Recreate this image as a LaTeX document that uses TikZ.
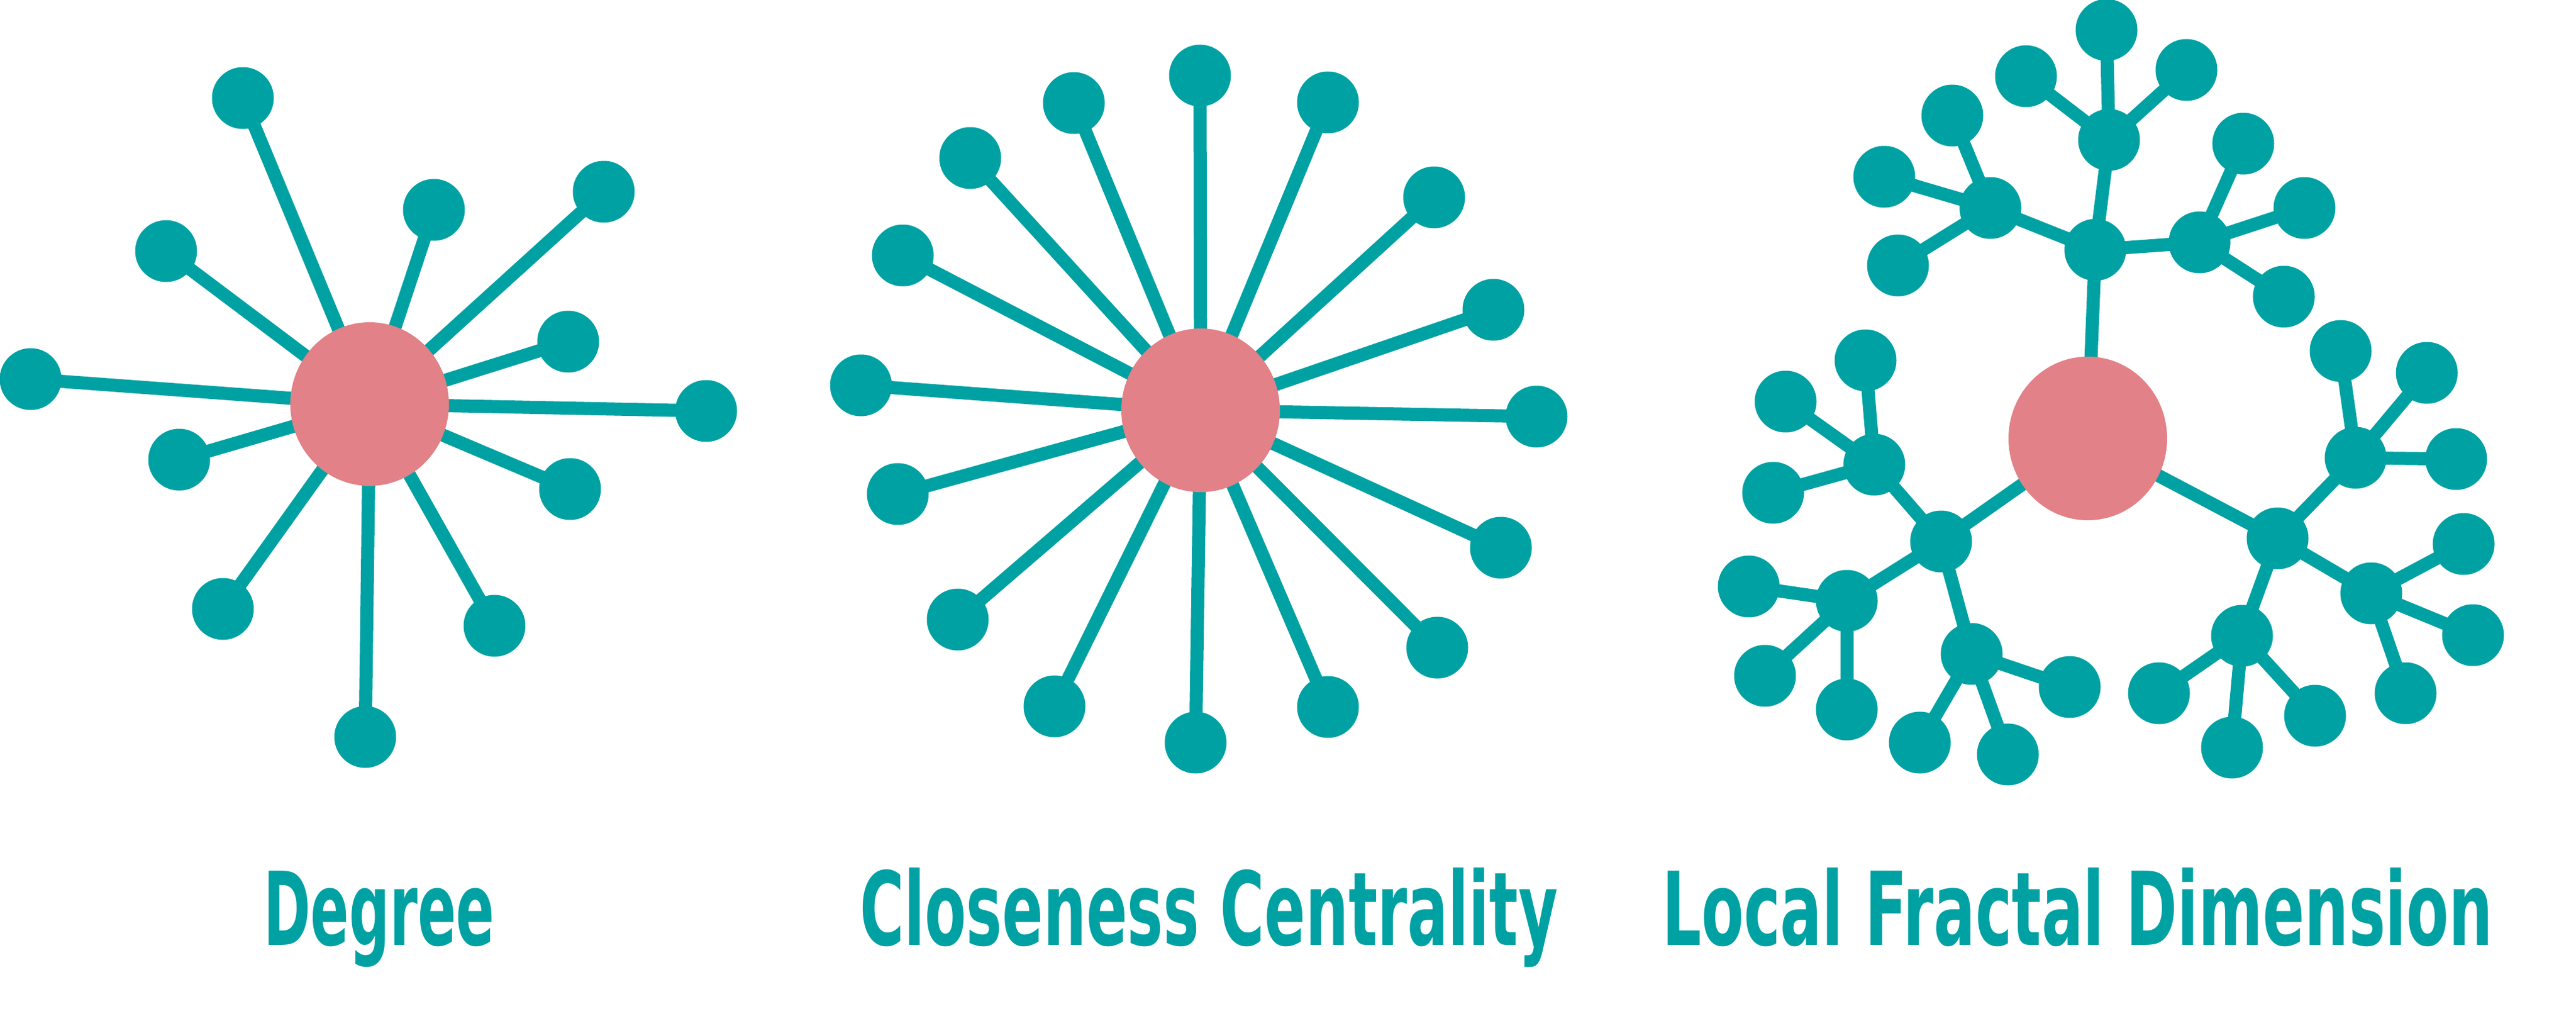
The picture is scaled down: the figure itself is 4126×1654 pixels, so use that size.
\documentclass[tikz,border=0pt]{standalone}
\usepackage{fontspec}
\usepackage{graphicx}
\usetikzlibrary{shapes.geometric}
\newfontfamily\lblfont{DejaVu Sans}
\definecolor{teal1}{RGB}{0,161,163}
\definecolor{pink1}{RGB}{226,129,135}
\pgfdeclarelayer{bg}
\pgfsetlayers{bg,main}
\tikzset{
  leaf/.style={circle, fill=teal1, draw=none, inner sep=0pt, minimum size=99pt},
  hub/.style={ellipse, fill=pink1, draw=none, inner sep=0pt, minimum width=254pt, minimum height=262pt},
  link/.style={draw=teal1, line width=21pt},
  lbl/.style={anchor=base west, inner sep=0pt, text=teal1}
}
\begin{document}
\begin{tikzpicture}[x=1pt,y=-1pt]
\useasboundingbox (0,0) rectangle (4126,1654);
% ---------------- Degree ----------------
\node[hub] (dh) at (592,647) {};
\foreach \n/\x/\y in {1/389/157, 2/695/336, 3/967/307, 4/266/402, 5/910/547, 6/49/607,
                      7/1131/658, 8/287/736, 9/913/783, 10/357/975, 11/792/1002, 12/585/1180}
  { \node[leaf] (d\n) at (\x,\y) {};
    \begin{pgfonlayer}{bg}\draw[link] (d\n.center) -- (dh.center);\end{pgfonlayer} }
% ---------------- Closeness ----------------
\node[hub] (ch) at (1923,657) {};
\foreach \n/\x/\y in {1/1922/121, 2/1720/165, 3/2127/164, 4/1554/253, 5/2297/316, 6/1446/409,
                      7/2392/496, 8/1379/617, 9/2461/667, 10/1438/791, 11/2404/877, 12/1534/992,
                      13/2302/1037, 14/1689/1131, 15/2127/1132, 16/1915/1189}
  { \node[leaf] (c\n) at (\x,\y) {};
    \begin{pgfonlayer}{bg}\draw[link] (c\n.center) -- (ch.center);\end{pgfonlayer} }
% ---------------- Local Fractal Dimension ----------------
\node[hub] (fh) at (3344,702) {};
% first-level
\node[leaf] (fB) at (3356,400) {};
\node[leaf] (fL) at (3109,867) {};
\node[leaf] (fR) at (3648,862) {};
% second-level
\node[leaf] (fB1) at (3378,224) {};
\node[leaf] (fB2) at (3188,333) {};
\node[leaf] (fB3) at (3523,388) {};
\node[leaf] (fL1) at (3002,744) {};
\node[leaf] (fL2) at (2958,962) {};
\node[leaf] (fL3) at (3158,1047) {};
\node[leaf] (fR1) at (3773,733) {};
\node[leaf] (fR2) at (3798,950) {};
\node[leaf] (fR3) at (3591,1018) {};
% leaves
\node[leaf] (fB1a) at (3374,48) {};
\node[leaf] (fB1b) at (3245,122) {};
\node[leaf] (fB1c) at (3502,112) {};
\node[leaf] (fB2a) at (3127,185) {};
\node[leaf] (fB2b) at (3018,283) {};
\node[leaf] (fB2c) at (3040,425) {};
\node[leaf] (fB3a) at (3593,230) {};
\node[leaf] (fB3b) at (3691,333) {};
\node[leaf] (fB3c) at (3658,475) {};
\node[leaf] (fL1a) at (2988,577) {};
\node[leaf] (fL1b) at (2860,643) {};
\node[leaf] (fL1c) at (2840,789) {};
\node[leaf] (fL2a) at (2801,939) {};
\node[leaf] (fL2b) at (2827,1082) {};
\node[leaf] (fL2c) at (2958,1136) {};
\node[leaf] (fL3a) at (3315,1100) {};
\node[leaf] (fL3b) at (3075,1189) {};
\node[leaf] (fL3c) at (3216,1208) {};
\node[leaf] (fR1a) at (3749,562) {};
\node[leaf] (fR1b) at (3887,597) {};
\node[leaf] (fR1c) at (3934,735) {};
\node[leaf] (fR2a) at (3946,871) {};
\node[leaf] (fR2b) at (3961,1017) {};
\node[leaf] (fR2c) at (3853,1110) {};
\node[leaf] (fR3a) at (3458,1110) {};
\node[leaf] (fR3b) at (3575,1197) {};
\node[leaf] (fR3c) at (3708,1146) {};
\begin{pgfonlayer}{bg}
\foreach \a/\b in {fh/fB, fh/fL, fh/fR,
  fB/fB1, fB/fB2, fB/fB3, fL/fL1, fL/fL2, fL/fL3, fR/fR1, fR/fR2, fR/fR3,
  fB1/fB1a, fB1/fB1b, fB1/fB1c, fB2/fB2a, fB2/fB2b, fB2/fB2c, fB3/fB3a, fB3/fB3b, fB3/fB3c,
  fL1/fL1a, fL1/fL1b, fL1/fL1c, fL2/fL2a, fL2/fL2b, fL2/fL2c, fL3/fL3a, fL3/fL3b, fL3/fL3c,
  fR1/fR1a, fR1/fR1b, fR1/fR1c, fR2/fR2a, fR2/fR2b, fR2/fR2c, fR3/fR3a, fR3/fR3b, fR3/fR3c}
  \draw[link] (\a.center) -- (\b.center);
\end{pgfonlayer}
% ---------------- Labels ----------------
\node[lbl] (t1) at (422,1513) {\resizebox{370pt}{119pt}{\lblfont\bfseries Degree}};
\node[lbl] (t2) at (1377,1513) {\resizebox{1118pt}{124pt}{\lblfont\bfseries Closeness Centrality}};
\node[lbl] (t3) at (2662,1513) {\resizebox{1330pt}{124pt}{\lblfont\bfseries Local Fractal Dimension}};
\end{tikzpicture}
\end{document}
